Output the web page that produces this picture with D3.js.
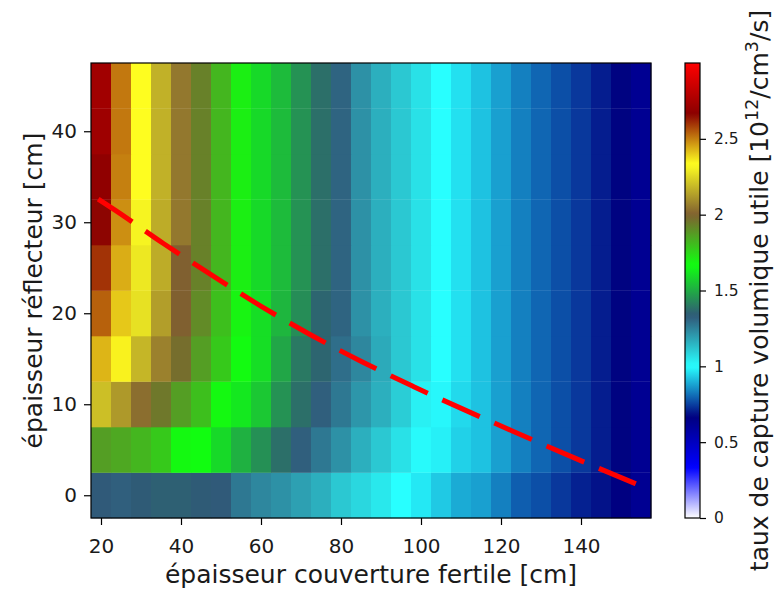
<!DOCTYPE html>
<html><head><meta charset="utf-8">
<script src="https://cdn.jsdelivr.net/npm/d3@7"></script>
<style>
body{margin:0;background:#fff}
text{font-family:"DejaVu Sans",sans-serif;fill:#1a1a1a}
</style>
</head><body><svg id="c" width="777" height="591"></svg>
<script>
// ---- data ----
const xCenters = [20,25,30,35,40,45,50,55,60,65,70,75,80,85,90,95,100,105,110,115,120,125,130,135,140,145,150,155];
const yCenters = [0,5,10,15,20,25,30,35,40,45];
const row0  = [1.33,1.32,1.34,1.35,1.35,1.34,1.33,1.27,1.24,1.22,1.19,1.16,1.11,1.08,1.046,1.00,0.97,0.93,0.89,0.876,0.834,0.79,0.77,0.74,0.71,0.69,0.665,0.62];
const row5  = [1.87,1.85,1.82,1.78,1.68,1.67,1.59,1.51,1.445,1.38,1.32,1.27,1.22,1.16,1.11,1.06,1.01,0.98,0.94,0.92,0.876,0.834,0.80,0.77,0.74,0.705,0.67,0.62];
const row10 = [2.20,2.12,2.03,1.95,1.87,1.80,1.68,1.62,1.556,1.45,1.38,1.32,1.27,1.21,1.16,1.10,1.03,0.99,0.95,0.92,0.876,0.834,0.80,0.77,0.74,0.705,0.67,0.62];
const row15 = [2.43,2.35,2.18,2.07,1.97,1.87,1.78,1.675,1.60,1.49,1.40,1.36,1.29,1.24,1.17,1.11,1.06,1.00,0.96,0.92,0.876,0.834,0.80,0.77,0.74,0.705,0.67,0.62];
const row20 = [2.54,2.405,2.27,2.13,2.00,1.91,1.80,1.69,1.60,1.52,1.44,1.36,1.31,1.22,1.16,1.11,1.06,1.00,0.96,0.92,0.876,0.834,0.80,0.77,0.74,0.705,0.67,0.62];
const row25 = [2.60,2.44,2.285,2.16,2.00,1.93,1.82,1.70,1.59,1.53,1.45,1.38,1.31,1.22,1.16,1.11,1.06,1.00,0.96,0.92,0.876,0.834,0.80,0.77,0.74,0.705,0.67,0.62];
const row30 = [2.66,2.48,2.31,2.16,2.05,1.93,1.82,1.70,1.59,1.53,1.45,1.38,1.31,1.22,1.16,1.11,1.06,1.00,0.96,0.92,0.876,0.834,0.80,0.77,0.74,0.705,0.67,0.62];
const row35 = [2.68,2.50,2.33,2.17,2.05,1.93,1.82,1.70,1.59,1.53,1.45,1.38,1.31,1.22,1.16,1.11,1.06,1.00,0.96,0.92,0.876,0.834,0.80,0.77,0.74,0.705,0.67,0.62];
const row40 = [2.72,2.51,2.33,2.17,2.05,1.93,1.82,1.70,1.59,1.53,1.45,1.38,1.31,1.22,1.16,1.11,1.06,1.00,0.96,0.92,0.876,0.834,0.80,0.77,0.74,0.705,0.67,0.62];
const row45 = [2.73,2.51,2.33,2.17,2.05,1.93,1.82,1.70,1.59,1.53,1.45,1.38,1.31,1.22,1.16,1.11,1.06,1.00,0.96,0.92,0.876,0.834,0.80,0.77,0.74,0.705,0.67,0.62];
const rows = [row0,row5,row10,row15,row20,row25,row30,row35,row40,row45];

// dashed red curve
const curveX = [19.3,23.6,35.6,47.7,59.95,72.25,85.1,98.2,124.4,137.6,153.7];
const curveY = [32.54,31.3,27.67,24.18,20.79,17.67,14.7,11.93,6.76,4.24,1.26];

const xTicks = [20,40,60,80,100,120,140];
const yTicks = [0,10,20,30,40];
const cbTicks = [0,0.5,1,1.5,2,2.5];
const cbTickLabels = ["0","0.5","1","1.5","2","2.5"];
const cmapColors = ["#ffffff","#0000ff","#000080","#28ffff","#305878","#10ff10","#806030","#ffff20","#8b0000","#ff0000"];
const vMin = 0, vMax = 3;

// ---- layout ----
const L = 91, R = 651, T = 63, B = 518;
const cbL = 685, cbR = 700;

const svg = d3.select("#c");
const x = d3.scaleLinear().domain([17.5,157.5]).range([L,R]);
const y = d3.scaleLinear().domain([-2.5,47.5]).range([B,T]);
const cmap = d3.scaleLinear()
  .domain(cmapColors.map((c,i)=>vMin + i*(vMax-vMin)/(cmapColors.length-1)))
  .range(cmapColors).interpolate(d3.interpolateRgb).clamp(true);

// cells
const cells = [];
rows.forEach((r,ri)=>r.forEach((v,ci)=>cells.push({x:xCenters[ci],y:yCenters[ri],v})));
svg.append("g").selectAll("rect").data(cells).join("rect")
  .attr("x",d=>x(d.x-2.5)).attr("width",d=>x(d.x+2.5)-x(d.x-2.5)+0.3)
  .attr("y",d=>y(d.y+2.5)).attr("height",d=>y(d.y-2.5)-y(d.y+2.5)+0.3)
  .attr("fill",d=>cmap(d.v));

// dashed curve
const pts = curveX.map((v,i)=>[v,curveY[i]]);
svg.append("path").datum(pts)
  .attr("d",d3.line().x(d=>x(d[0])).y(d=>y(d[1])).curve(d3.curveMonotoneX))
  .attr("fill","none").attr("stroke","#ff0000").attr("stroke-width",5)
  .attr("stroke-dasharray","41,16").attr("stroke-linecap","butt");

// frame
svg.append("rect").attr("x",L).attr("y",T).attr("width",R-L).attr("height",B-T)
  .attr("fill","none").attr("stroke","#000").attr("stroke-width",1.2);

// axes
const xa = svg.append("g").attr("transform",`translate(0,${B})`)
  .call(d3.axisBottom(x).tickValues(xTicks).tickSize(7).tickPadding(7));
const ya = svg.append("g").attr("transform",`translate(${L},0)`)
  .call(d3.axisLeft(y).tickValues(yTicks).tickSize(7).tickPadding(7));
[xa,ya].forEach(a=>{
  a.select(".domain").remove();
  a.selectAll(".tick line").attr("stroke","#000").attr("stroke-width",1.2);
  a.selectAll(".tick text").attr("font-size",20).attr("font-family","DejaVu Sans").attr("fill","#1a1a1a");
});
xa.selectAll(".tick text").attr("y",21).attr("dy","0.71em");

// axis labels
svg.append("text").attr("x",(L+R)/2).attr("y",583).attr("text-anchor","middle")
  .attr("font-size",25).text("épaisseur couverture fertile [cm]");
svg.append("text").attr("transform",`translate(42,${(T+B)/2}) rotate(-90)`).attr("text-anchor","middle")
  .attr("font-size",25).text("épaisseur réflecteur [cm]");

// colorbar
const cy = d3.scaleLinear().domain([vMin,vMax]).range([B,T]);
const grad = svg.append("defs").append("linearGradient").attr("id","cbg")
  .attr("x1",0).attr("y1",1).attr("x2",0).attr("y2",0);
d3.range(0,1.0001,0.01).forEach(t=>{
  grad.append("stop").attr("offset",t).attr("stop-color",cmap(vMin+t*(vMax-vMin)));
});
svg.append("rect").attr("x",cbL).attr("y",T).attr("width",cbR-cbL).attr("height",B-T)
  .attr("fill","url(#cbg)").attr("stroke","#000").attr("stroke-width",1.2);
const cbAxis = svg.append("g").attr("transform",`translate(${cbR},0)`)
  .call(d3.axisRight(cy).tickValues(cbTicks).tickFormat((d,i)=>cbTickLabels[i]).tickSize(6).tickPadding(8));
cbAxis.select(".domain").remove();
cbAxis.selectAll(".tick line").attr("stroke","#000").attr("stroke-width",1.2);
cbAxis.selectAll(".tick text").attr("font-size",15.5).attr("font-family","DejaVu Sans").attr("fill","#1a1a1a");

// colorbar label
const cl = svg.append("text").attr("transform",`translate(768,${(T+B)/2}) rotate(-90)`)
  .attr("text-anchor","middle").attr("font-size",25);
cl.append("tspan").text("taux de capture volumique utile [10");
cl.append("tspan").attr("font-size",17.5).attr("dy",-10).text("12");
cl.append("tspan").attr("dy",10).text("/cm");
cl.append("tspan").attr("font-size",17.5).attr("dy",-10).text("3");
cl.append("tspan").attr("dy",10).text("/s]");
</script></body></html>
